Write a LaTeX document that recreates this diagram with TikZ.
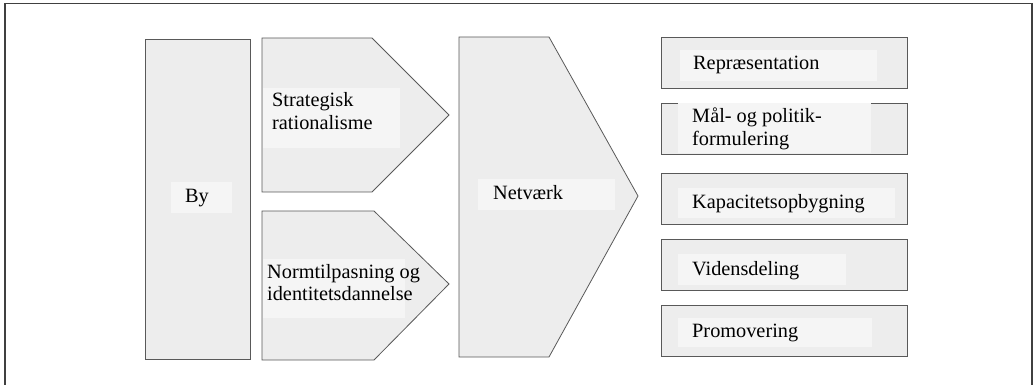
\documentclass[tikz,border=0pt]{standalone}
\usepackage{fontspec}
\setmainfont{Liberation Serif}
\begin{document}
\begin{tikzpicture}[x=1pt,y=-1pt,
  shapebox/.style={draw=black!65, line width=0.8pt, fill=black!7},
  lbl/.style={anchor=base west, inner sep=0pt, font=\fontsize{20.3}{22.5}\selectfont, align=left}]
\useasboundingbox (0,0) rectangle (1034,385);
% outer frame (bottom edge lies outside the picture)
\draw[black!75, line width=1.1pt] (5,390) -- (5,3.5) -- (1032,3.5) -- (1032,390);

% By
\draw[shapebox] (145,39) rectangle (250,359);
\fill[black!4] (171,182) rectangle (232,213);
\node[lbl] (by) at (185,203) {By};

% Strategisk rationalisme arrow
\draw[shapebox] (262,38) -- (372,38) -- (449,115) -- (372,192) -- (262,192) -- cycle;
\fill[black!4] (262.5,88) rectangle (400,148);
\node[lbl] (strat) at (272,129.5) {Strategisk\\rationalisme};

% Normtilpasning arrow
\draw[shapebox] (262,211) -- (374,211) -- (449,284) -- (374,360) -- (262,360) -- cycle;
\fill[black!4] (262.5,259) rectangle (405,318);
\node[lbl] (norm) at (267,300.5) {Normtilpasning og\\identitetsdannelse};

% Netvaerk arrow
\draw[shapebox] (459,37) -- (549,37) -- (638,196) -- (549,357) -- (459,357) -- cycle;
\fill[black!4] (478,179) rectangle (615,210);
\node[lbl] (net) at (493,200) {Netværk};

% Right boxes
\draw[shapebox] (661,37) rectangle (907,88);
\fill[black!4] (680,50) rectangle (877,81);
\node[lbl] (rep) at (693,70) {Repræsentation};

\draw[shapebox] (661,103) rectangle (907,154);
\fill[black!4] (678,103.5) rectangle (871,153.5);
\node[lbl] (maal) at (692,145.5) {Mål- og politik-\\formulering};

\draw[shapebox] (661,173) rectangle (907,224);
\fill[black!4] (678,188) rectangle (895,218);
\node[lbl] (kap) at (692,208) {Kapacitetsopbygning};

\draw[shapebox] (661,239) rectangle (907,290);
\fill[black!4] (678,254) rectangle (846,285);
\node[lbl] (vid) at (692,275) {Vidensdeling};

\draw[shapebox] (661,305) rectangle (907,356);
\fill[black!4] (678,318) rectangle (872,347);
\node[lbl] (pro) at (692,337) {Promovering};
\end{tikzpicture}
\end{document}
